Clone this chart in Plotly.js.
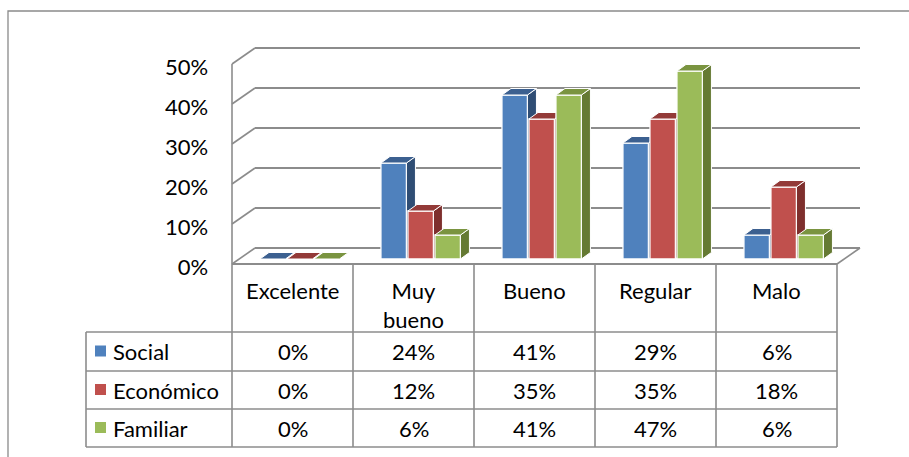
<!DOCTYPE html>
<html>
<head>
<meta charset="utf-8">
<script src="https://cdn.plot.ly/plotly-3.0.1.min.js"></script>
<style>html,body{margin:0;padding:0;background:#fff;}#chart{width:909px;height:457px;}</style>
</head>
<body>
<div id="chart"></div>
<script>
// ---------- data ----------
const categories = ["Excelente", "Muy bueno", "Bueno", "Regular", "Malo"];
const seriesNames = ["Social", "Económico", "Familiar"];
const social    = [0.00, 0.24, 0.41, 0.29, 0.06];
const economico = [0.00, 0.12, 0.35, 0.35, 0.18];
const familiar  = [0.00, 0.06, 0.41, 0.47, 0.06];
const yTicks = [0, 0.1, 0.2, 0.3, 0.4, 0.5];

// ---------- styles ----------
const frontColors = ["#4F81BD", "#C0504D", "#9BBB59"];
const topColors   = ["#3C6090", "#933A38", "#7A9440"];
const sideColors  = ["#2F4D74", "#7E2F2D", "#657A33"];
const FONT = "Lato, 'Open Sans', sans-serif";
const FS = 22;
const GRID = "#8C8C8C";

const W = 909, H = 457;
const px = x => x / W;
const py = y => 1 - y / H;

// geometry (pixels)
const FX0 = 232, CW = 121, FX1 = FX0 + CW * categories.length; // front floor edge
const FY0 = 264;           // front plane 0%
const PPU = 400;           // pixels per 1.0
const BACK = [23, -16];    // back-wall offset from front plane
const MID = [7.2, -5];     // bar plane offset from front plane

const allSeries = [social, economico, familiar];

// bar geometry in data units
const pitch = 27 / CW, barW = 25.5 / CW;
const offsets = [-1.5 * pitch, -0.5 * pitch, 0.5 * pitch];
const dX = 9 / CW, dY = 6.5 / PPU;

const traces = [];
allSeries.forEach((vals, k) => {
  const xa = k === 0 ? 'x' : 'x' + (k + 1);
  const ya = k === 0 ? 'y' : 'y' + (k + 1);
  const xs = categories.map((c, i) => i);
  traces.push({
    type: 'bar', x: xs, y: vals, width: barW, offset: offsets[k] + (pitch - barW) / 2,
    marker: {color: frontColors[k], line: {color: '#ffffff', width: 1.3}},
    xaxis: xa, yaxis: ya, showlegend: false, hoverinfo: 'skip', name: seriesNames[k]
  });
  const sx = [], sy = [], tx = [], ty = [];
  vals.forEach((v, i) => {
    const xl = i + offsets[k] + (pitch - barW) / 2, xr = xl + barW;
    sx.push(xr, xr, xr + dX, xr + dX, xr, null);
    sy.push(0, v, v + dY, dY, 0, null);
    tx.push(xl, xr, xr + dX, xl + dX, xl, null);
    ty.push(v, v, v + dY, v + dY, v, null);
  });
  traces.push({type: 'scatter', mode: 'lines', x: sx, y: sy, fill: 'toself', fillcolor: sideColors[k],
    line: {color: '#ffffff', width: 1}, xaxis: xa, yaxis: ya, showlegend: false, hoverinfo: 'skip'});
  traces.push({type: 'scatter', mode: 'lines', x: tx, y: ty, fill: 'toself', fillcolor: topColors[k],
    line: {color: '#ffffff', width: 1}, xaxis: xa, yaxis: ya, showlegend: false, hoverinfo: 'skip'});
});

// axes: bar plane
const yLo = -0.0125, yHi = 0.505;
const barX0 = FX0 + MID[0], barX1 = FX1 + MID[0];
const barY0 = FY0 + MID[1];
const yPixLo = barY0 - yLo * PPU, yPixHi = barY0 - yHi * PPU;
const xDomain = [px(barX0), px(barX1)];
const yDomain = [py(yPixLo), py(yPixHi)];
const xRange = [-0.5, categories.length - 0.5];

const shapes = [];
const line = (x0, y0, x1, y1, w, c) => shapes.push({type: 'line', xref: 'paper', yref: 'paper',
  x0: px(x0), y0: py(y0), x1: px(x1), y1: py(y1), line: {color: c || GRID, width: w || 1.6}, layer: 'below'});

// outer frame
shapes.push({type: 'rect', xref: 'paper', yref: 'paper', x0: px(8), y0: py(11), x1: 1.2, y1: -0.2,
  line: {color: '#8A8A8A', width: 1.3}, layer: 'below'});

// back wall gridlines + left wall diagonals
yTicks.forEach(t => {
  const fy = FY0 - t * PPU;
  line(FX0, fy, FX0 + BACK[0], fy + BACK[1]);
  line(FX0 + BACK[0], fy + BACK[1], FX1 + BACK[0], fy + BACK[1], 2);
});
// left wall front edge
line(FX0, FY0 - yTicks[yTicks.length - 1] * PPU, FX0, FY0);
// floor front edge & right edge
line(FX0, FY0, FX1, FY0, 2);
line(FX1, FY0, FX1 + BACK[0], FY0 + BACK[1]);

// table
const headerBottom = 332;
const rowLines = [332, 371, 409, 447];
const legendX = 86;
for (let k = 0; k <= categories.length; k++) line(FX0 + CW * k, FY0, FX0 + CW * k, rowLines[rowLines.length - 1], 1.6);
line(legendX, headerBottom, legendX, rowLines[rowLines.length - 1], 1.6);
rowLines.forEach(y => line(legendX, y, FX1, y, 1.6));

const annotations = [];
// header
categories.forEach((c, i) => {
  annotations.push({xref: 'paper', yref: 'paper', x: px(FX0 + CW * (i + 0.5)), y: py(275),
    xanchor: 'center', yanchor: 'top', text: c.replace(' ', '<br>'), showarrow: false,
    font: {family: FONT, size: FS, color: '#000'}});
});
// rows
allSeries.forEach((vals, k) => {
  const rc = (rowLines[k] + rowLines[k + 1]) / 2;
  shapes.push({type: 'rect', xref: 'paper', yref: 'paper', x0: px(95), x1: px(106), y0: py(rc - 6), y1: py(rc + 5),
    fillcolor: frontColors[k], line: {width: 0}});
  annotations.push({xref: 'paper', yref: 'paper', x: px(111), y: py(rc), xanchor: 'left', yanchor: 'middle',
    text: seriesNames[k], showarrow: false, font: {family: FONT, size: FS, color: '#000'}});
  vals.forEach((v, i) => {
    annotations.push({xref: 'paper', yref: 'paper', x: px(FX0 + CW * (i + 0.5)), y: py(rc), xanchor: 'center', yanchor: 'middle',
      text: Math.round(v * 100) + '%', showarrow: false, font: {family: FONT, size: FS, color: '#000'}});
  });
});

const hiddenX = {range: xRange, visible: false, fixedrange: true};
const hiddenY = {range: [yLo, yHi], visible: false, fixedrange: true};
const layout = {
  width: W, height: H,
  margin: {l: 0, r: 0, t: 0, b: 0},
  paper_bgcolor: '#ffffff', plot_bgcolor: 'rgba(0,0,0,0)',
  showlegend: false,
  barmode: 'overlay',
  xaxis: Object.assign({domain: xDomain}, hiddenX),
  xaxis2: Object.assign({overlaying: 'x'}, hiddenX),
  xaxis3: Object.assign({overlaying: 'x'}, hiddenX),
  yaxis: {domain: yDomain, range: [yLo, yHi], tickvals: yTicks, ticktext: yTicks.map(t => Math.round(t * 100) + '%'),
    showgrid: false, zeroline: false, showline: false, ticks: '', fixedrange: true,
    ticklabelshift: 8, ticklabelstandoff: 30,
    tickfont: {family: FONT, size: FS, color: '#000'}},
  yaxis2: Object.assign({overlaying: 'y'}, hiddenY),
  yaxis3: Object.assign({overlaying: 'y'}, hiddenY),
  shapes: shapes,
  annotations: annotations
};

Plotly.newPlot('chart', traces, layout, {staticPlot: true, displayModeBar: false});
</script>
</body>
</html>
